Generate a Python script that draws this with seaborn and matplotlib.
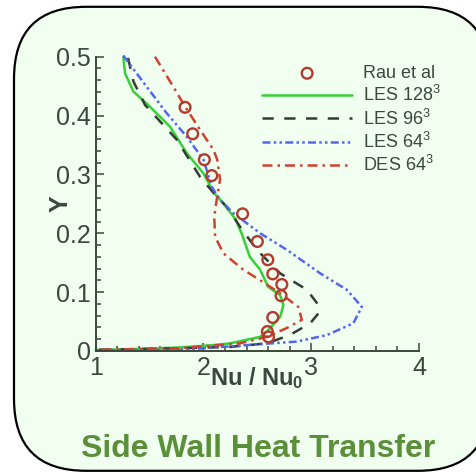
import numpy as np
import pandas as pd
import matplotlib
matplotlib.use("Agg")
import matplotlib.pyplot as plt
import seaborn as sns
from matplotlib.patches import FancyBboxPatch
from matplotlib.ticker import MultipleLocator, FixedLocator, FixedFormatter

# ---------------- data ----------------
rau_nu = [1.829, 1.900, 2.008, 2.077, 2.363, 2.500, 2.597, 2.643, 2.727, 2.720, 2.643, 2.593, 2.603]
rau_y = [0.414, 0.369, 0.325, 0.298, 0.233, 0.186, 0.155, 0.131, 0.113, 0.094, 0.057, 0.033, 0.024]

les128_nu = [1.256, 1.272, 1.349, 1.504, 1.690, 1.845, 1.999, 2.100, 2.185, 2.300, 2.360, 2.430,
             2.526, 2.600, 2.711, 2.742, 2.711, 2.588, 2.525, 2.400, 2.247, 2.090, 1.780, 1.320, 1.000]
les128_y = [0.500, 0.472, 0.441, 0.415, 0.381, 0.336, 0.302, 0.268, 0.251, 0.223, 0.197, 0.160,
            0.138, 0.109, 0.095, 0.078, 0.058, 0.033, 0.024, 0.019, 0.013, 0.010, 0.006, 0.003, 0.0015]

les96_nu = [1.300, 1.350, 1.458, 1.752, 1.968, 2.124, 2.216, 2.340, 2.495, 2.711, 2.960, 3.067,
            3.067, 2.990, 2.800, 2.588, 2.247, 1.780, 1.000]
les96_y = [0.498, 0.458, 0.418, 0.359, 0.296, 0.262, 0.245, 0.211, 0.172, 0.132, 0.104, 0.078,
           0.064, 0.047, 0.027, 0.013, 0.007, 0.0046, 0.002]

les64_nu = [1.256, 1.473, 1.659, 1.845, 2.000, 2.077, 2.154, 2.278, 2.526, 2.773, 3.083, 3.330,
            3.470, 3.390, 3.145, 2.866, 2.400, 1.780, 1.000]
les64_y = [0.502, 0.449, 0.404, 0.364, 0.325, 0.279, 0.257, 0.234, 0.200, 0.172, 0.132, 0.104,
           0.075, 0.047, 0.027, 0.016, 0.010, 0.0017, 0.0015]

des64_nu = [1.550, 1.720, 1.830, 1.968, 2.092, 2.128, 2.154, 2.123, 2.100, 2.108, 2.185, 2.370,
            2.520, 2.711, 2.880, 2.913, 2.773, 2.588, 2.340, 1.780, 1.000]
des64_y = [0.500, 0.449, 0.415, 0.376, 0.342, 0.325, 0.291, 0.257, 0.228, 0.194, 0.166, 0.138,
           0.121, 0.098, 0.075, 0.053, 0.039, 0.024, 0.013, 0.0046, 0.002]

x_ticks = [1, 2, 3, 4]
x_tick_labels = ["1", "2", "3", "4"]
y_ticks = [0, 0.1, 0.2, 0.3, 0.4, 0.5]
y_tick_labels = ["0", "0.1", "0.2", "0.3", "0.4", "0.5"]

# ---------------- style ----------------
sns.set_style("ticks")
plt.rcParams["font.family"] = ["Liberation Sans", "DejaVu Sans"]
plt.rcParams["mathtext.fontset"] = "custom"
plt.rcParams["mathtext.rm"] = "Liberation Sans"
plt.rcParams["mathtext.it"] = "Liberation Sans:italic"
plt.rcParams["mathtext.bf"] = "Liberation Sans:bold"

TXT = "#3d473d"
W, H = 477, 472
fig = plt.figure(figsize=(W / 100, H / 100), dpi=100, facecolor="white")

# rounded frame
frame = FancyBboxPatch((0.14, 0.012), 4.76, 4.64,
                       boxstyle="round,pad=0,rounding_size=0.72",
                       transform=fig.dpi_scale_trans, facecolor="#F0FFF0",
                       edgecolor="black", linewidth=1.6, zorder=-5)
fig.patches.append(frame)

left, right = 95.7 / W, 419 / W
bottom, top = 1 - 351 / H, 1 - 56.7 / H
ax = fig.add_axes([left, bottom, right - left, top - bottom])
ax.set_facecolor("none")
ax.set_zorder(2)

lw = 1.8
sns.lineplot(x=les128_nu, y=les128_y, sort=False, estimator=None, ax=ax,
             color="#38D038", linewidth=lw, label="LES 128$^3$")
sns.lineplot(x=les96_nu, y=les96_y, sort=False, estimator=None, ax=ax,
             color="#333D33", linewidth=lw, linestyle=(0, (4.5, 4.2)), label="LES 96$^3$")
sns.lineplot(x=les64_nu, y=les64_y, sort=False, estimator=None, ax=ax,
             color="#5566EE", linewidth=lw, linestyle=(0, (3.2, 1.3, 1, 1.3, 1, 1.3)),
             label="LES 64$^3$")
sns.lineplot(x=des64_nu, y=des64_y, sort=False, estimator=None, ax=ax,
             color="#D2402E", linewidth=lw, linestyle=(0, (4, 2, 1, 2)), label="DES 64$^3$")
sns.scatterplot(x=rau_nu, y=rau_y, ax=ax, marker="o", s=60, facecolors="none",
                edgecolor="#B5392E", linewidth=1.7, label="Rau et al", zorder=5)

for ln in ax.lines:
    ln.set_clip_on(False)

ax.set_xlim(1, 4)
ax.set_ylim(0, 0.5)
ax.xaxis.set_major_locator(FixedLocator(x_ticks))
ax.xaxis.set_major_formatter(FixedFormatter(x_tick_labels))
ax.yaxis.set_major_locator(FixedLocator(y_ticks))
ax.yaxis.set_major_formatter(FixedFormatter(y_tick_labels))
ax.xaxis.set_minor_locator(MultipleLocator(0.2))
ax.yaxis.set_minor_locator(MultipleLocator(0.02))

for s in ["top", "right"]:
    ax.spines[s].set_visible(False)
for s in ["left", "bottom"]:
    ax.spines[s].set_color(TXT)
    ax.spines[s].set_linewidth(1.4)

ax.tick_params(axis="both", which="both", direction="in", color=TXT, width=1.1)
ax.tick_params(axis="both", which="major", length=6, labelsize=18, labelcolor=TXT)
ax.tick_params(axis="both", which="minor", length=3.5)
ax.tick_params(axis="y", which="major", pad=3.6)
ax.tick_params(axis="x", which="major", pad=3.5)

ax.set_xlabel("Nu / Nu$_\\mathbf{0}$", fontsize=17, fontweight="bold", color=TXT, va="top")
ax.xaxis.set_label_coords(0.497, -0.047)
ax.set_ylabel("Y", fontsize=18, fontweight="bold", color=TXT, rotation=90,
              va="center", ha="center")
ax.yaxis.set_label_coords(-0.107, 0.5)

# legend
handles, labels = ax.get_legend_handles_labels()
order = [labels.index(l) for l in ["Rau et al", "LES 128$^3$", "LES 96$^3$", "LES 64$^3$", "DES 64$^3$"]]
leg = ax.legend([handles[i] for i in order], [labels[i] for i in order],
                loc="upper left", bbox_to_anchor=(262 / W, 1 - 65 / H),
                bbox_transform=fig.transFigure, frameon=False, fontsize=13,
                handlelength=5.0, handletextpad=0.6, labelspacing=0.18,
                borderpad=0, borderaxespad=0, scatterpoints=1)
for t in leg.get_texts():
    t.set_color(TXT)

fig.text(258.5 / W, 1 - 456.7 / H, "Side Wall Heat Transfer", ha="center", va="baseline",
         fontsize=23, fontweight="bold", color="#5B8F3A")

fig.savefig("out.png", dpi=100, facecolor="white")
